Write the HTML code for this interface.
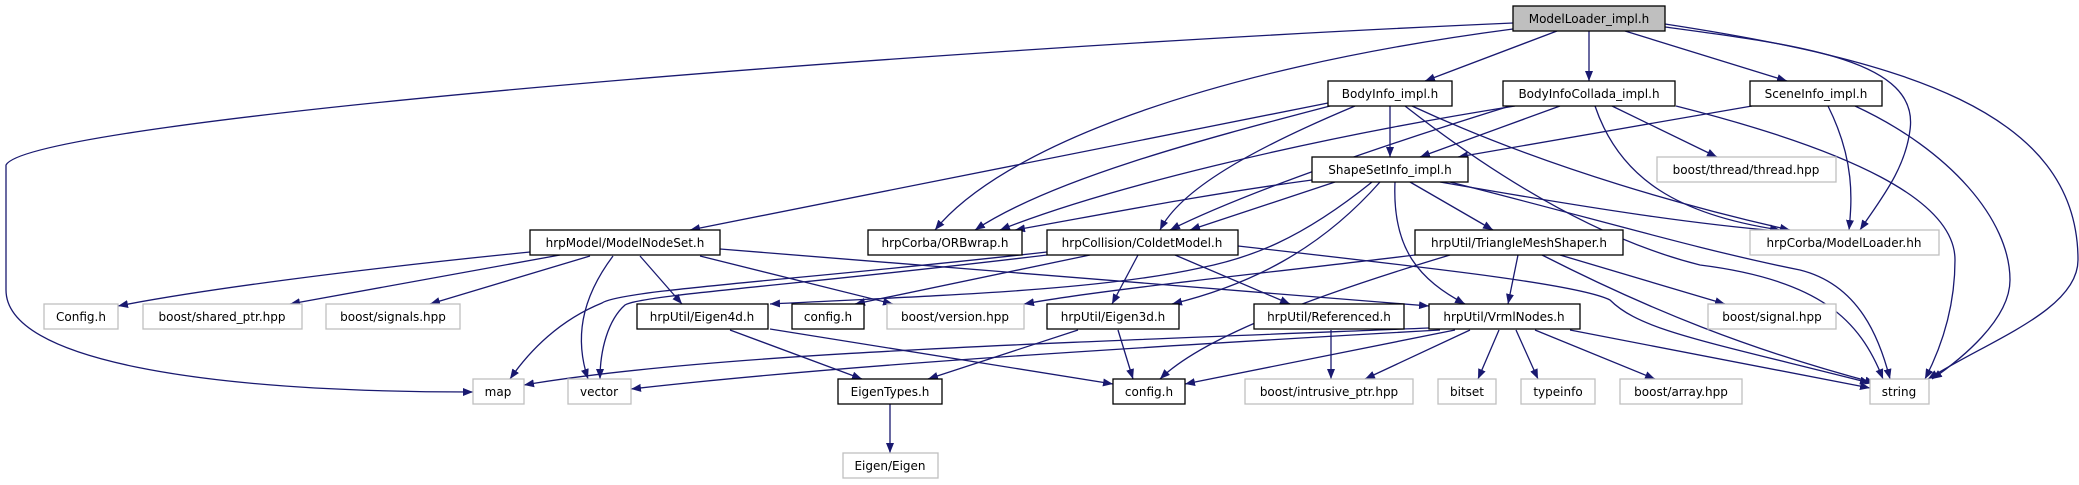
<!DOCTYPE html>
<html><head><meta charset="utf-8"><style>
html,body{margin:0;padding:0;background:#fff;}
svg{display:block;}
text{font-family:"DejaVu Sans","Liberation Sans",sans-serif;font-size:12px;fill:#000;text-anchor:middle;}
.e{fill:none;stroke:#191970;stroke-width:1.3;marker-end:url(#a);}
.b{fill:#fff;stroke:#000;stroke-width:1.3;}
.g{fill:#fff;stroke:#bfbfbf;stroke-width:1.3;}
</style></head><body>
<svg width="2079" height="485" viewBox="0 0 2079 485" xmlns="http://www.w3.org/2000/svg">
<defs><marker id="a" markerUnits="userSpaceOnUse" markerWidth="11" markerHeight="9" refX="10" refY="4" orient="auto"><path d="M0,0 L10,4 L0,8 z" fill="#191970"/></marker></defs>
<g>
<path class="e" d="M1513,23 C900,50 30,120 6,165 L6,290 C6,360 200,392 473,392"/>
<path class="e" d="M1513,29 C1200,70 1000,150 935,230"/>
<path class="e" d="M1557,31 L1425,81"/>
<path class="e" d="M1589,31 L1589,81"/>
<path class="e" d="M1625,31 L1787,81"/>
<path class="e" d="M1665,27 C1800,45 1920,60 1910,130 C1905,170 1880,200 1860,230"/>
<path class="e" d="M1665,24 C1900,60 2078,110 2078,260 C2078,310 1990,340 1928,379"/>
<path class="e" d="M1390,106 L1390,157"/>
<path class="e" d="M1328,103 L690,230"/>
<path class="e" d="M1330,106 C1200,140 1050,180 975,230"/>
<path class="e" d="M1355,106 C1250,150 1180,190 1160,230"/>
<path class="e" d="M1412,106 C1550,170 1700,210 1790,230"/>
<path class="e" d="M1405,106 C1500,180 1600,240 1700,265 C1820,280 1860,320 1883,379"/>
<path class="e" d="M1560,106 L1420,157"/>
<path class="e" d="M1515,106 C1300,140 1100,190 1000,230"/>
<path class="e" d="M1510,106 C1400,140 1250,190 1170,230"/>
<path class="e" d="M1612,106 L1717,157"/>
<path class="e" d="M1595,106 C1620,180 1680,215 1780,230"/>
<path class="e" d="M1676,106 C1850,150 1955,200 1955,260 C1955,310 1940,350 1925,379"/>
<path class="e" d="M1752,106 L1458,157"/>
<path class="e" d="M1828,106 C1855,160 1852,200 1849,230"/>
<path class="e" d="M1855,106 C1950,150 2010,220 2010,280 C2010,320 1960,360 1932,379"/>
<path class="e" d="M1312,180 C1200,195 1100,215 1015,230"/>
<path class="e" d="M1335,182 L1190,230"/>
<path class="e" d="M1410,182 L1493,230"/>
<path class="e" d="M1372,182 C1300,240 1250,258 1200,268 C1100,290 950,295 770,304"/>
<path class="e" d="M1380,182 C1320,250 1250,285 1172,304"/>
<path class="e" d="M1395,182 C1392,250 1420,280 1465,304"/>
<path class="e" d="M1440,182 C1600,210 1700,225 1790,232"/>
<path class="e" d="M1450,182 C1600,220 1700,250 1800,270 C1860,285 1880,340 1890,379"/>
<path class="e" d="M1047,252 C800,280 620,290 602,303 C560,320 530,350 510,379"/>
<path class="e" d="M1047,255 C800,285 640,295 625,305 C608,320 600,350 600,379"/>
<path class="e" d="M1090,255 L855,304"/>
<path class="e" d="M1138,255 L1112,304"/>
<path class="e" d="M1175,255 L1290,304"/>
<path class="e" d="M1238,246 C1450,270 1580,285 1610,300 C1640,330 1700,340 1870,383"/>
<path class="e" d="M530,252 C350,270 200,290 118,306"/>
<path class="e" d="M560,255 L290,304"/>
<path class="e" d="M590,256 L430,304"/>
<path class="e" d="M613,256 C580,300 575,340 588,379"/>
<path class="e" d="M640,256 L682,304"/>
<path class="e" d="M700,256 L893,304"/>
<path class="e" d="M720,249 L1429,306"/>
<path class="e" d="M1518,255 L1508,304"/>
<path class="e" d="M1560,255 L1725,304"/>
<path class="e" d="M1542,255 C1650,310 1750,350 1875,383"/>
<path class="e" d="M1450,255 C1300,300 1200,340 1160,379"/>
<path class="e" d="M1415,255 C1250,275 1100,290 1024,304"/>
<path class="e" d="M730,330 L862,379"/>
<path class="e" d="M770,329 L1113,384"/>
<path class="e" d="M1078,330 L928,379"/>
<path class="e" d="M1118,330 L1133,379"/>
<path class="e" d="M1331,330 L1331,379"/>
<path class="e" d="M1429,328 C1000,345 700,355 524,385"/>
<path class="e" d="M1440,330 C1000,355 800,370 631,389"/>
<path class="e" d="M1455,330 L1185,384"/>
<path class="e" d="M1470,330 L1365,379"/>
<path class="e" d="M1499,330 L1478,379"/>
<path class="e" d="M1516,330 L1538,379"/>
<path class="e" d="M1535,330 L1655,379"/>
<path class="e" d="M1570,330 L1870,388"/>
<path class="e" d="M890,404 L890,453"/>
</g>
<g>
<rect x="1513" y="6" width="152" height="25" fill="#bfbfbf" stroke="#000" stroke-width="1.3"/><text x="1589" y="23">ModelLoader_impl.h</text>
<rect class="b" x="1328" y="81" width="124" height="25"/><text x="1390" y="98">BodyInfo_impl.h</text>
<rect class="b" x="1503" y="81" width="172" height="25"/><text x="1589" y="98">BodyInfoCollada_impl.h</text>
<rect class="b" x="1750" y="81" width="132" height="25"/><text x="1816" y="98">SceneInfo_impl.h</text>
<rect class="b" x="1312" y="157" width="156" height="25"/><text x="1390" y="174">ShapeSetInfo_impl.h</text>
<rect class="g" x="1657" y="157" width="179" height="25"/><text x="1746" y="174">boost/thread/thread.hpp</text>
<rect class="b" x="530" y="230" width="190" height="25"/><text x="625" y="247">hrpModel/ModelNodeSet.h</text>
<rect class="b" x="868" y="230" width="154" height="25"/><text x="945" y="247">hrpCorba/ORBwrap.h</text>
<rect class="b" x="1047" y="230" width="191" height="25"/><text x="1142" y="247">hrpCollision/ColdetModel.h</text>
<rect class="b" x="1415" y="230" width="208" height="25"/><text x="1519" y="247">hrpUtil/TriangleMeshShaper.h</text>
<rect class="g" x="1750" y="230" width="189" height="25"/><text x="1844" y="247">hrpCorba/ModelLoader.hh</text>
<rect class="g" x="44" y="304" width="74" height="25"/><text x="81" y="321">Config.h</text>
<rect class="g" x="143" y="304" width="159" height="25"/><text x="222" y="321">boost/shared_ptr.hpp</text>
<rect class="g" x="326" y="304" width="134" height="25"/><text x="393" y="321">boost/signals.hpp</text>
<rect class="b" x="637" y="304" width="131" height="25"/><text x="702" y="321">hrpUtil/Eigen4d.h</text>
<rect class="b" x="792" y="304" width="72" height="25"/><text x="828" y="321">config.h</text>
<rect class="g" x="887" y="304" width="137" height="25"/><text x="955" y="321">boost/version.hpp</text>
<rect class="b" x="1047" y="304" width="132" height="25"/><text x="1113" y="321">hrpUtil/Eigen3d.h</text>
<rect class="b" x="1254" y="304" width="150" height="25"/><text x="1329" y="321">hrpUtil/Referenced.h</text>
<rect class="b" x="1429" y="304" width="151" height="25"/><text x="1504" y="321">hrpUtil/VrmlNodes.h</text>
<rect class="g" x="1708" y="304" width="128" height="25"/><text x="1772" y="321">boost/signal.hpp</text>
<rect class="g" x="473" y="379" width="51" height="25"/><text x="498" y="396">map</text>
<rect class="g" x="568" y="379" width="63" height="25"/><text x="599" y="396">vector</text>
<rect class="b" x="838" y="379" width="104" height="25"/><text x="890" y="396">EigenTypes.h</text>
<rect class="b" x="1113" y="379" width="72" height="25"/><text x="1149" y="396">config.h</text>
<rect class="g" x="1245" y="379" width="168" height="25"/><text x="1329" y="396">boost/intrusive_ptr.hpp</text>
<rect class="g" x="1438" y="379" width="58" height="25"/><text x="1467" y="396">bitset</text>
<rect class="g" x="1521" y="379" width="74" height="25"/><text x="1558" y="396">typeinfo</text>
<rect class="g" x="1620" y="379" width="122" height="25"/><text x="1681" y="396">boost/array.hpp</text>
<rect class="g" x="1870" y="379" width="59" height="25"/><text x="1899" y="396">string</text>
<rect class="g" x="843" y="453" width="95" height="25"/><text x="890" y="470">Eigen/Eigen</text>
</g>
</svg>
</body></html>
